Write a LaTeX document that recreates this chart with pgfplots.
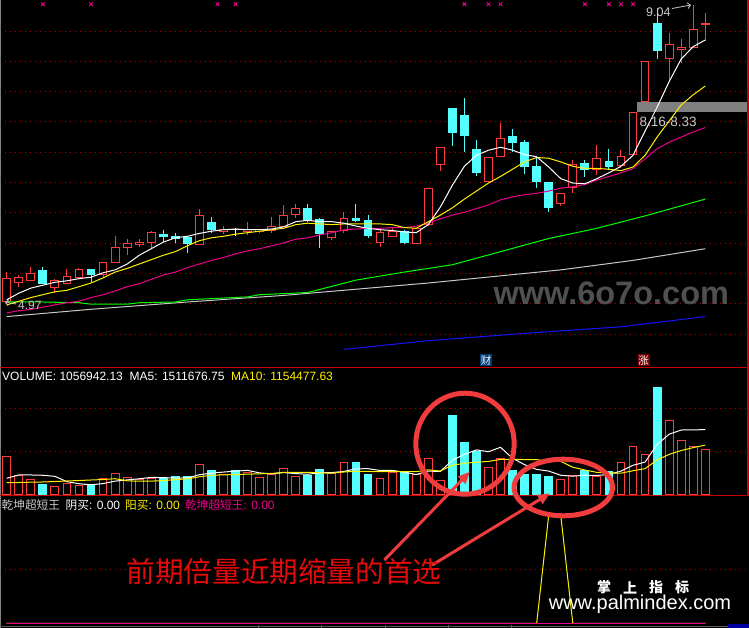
\documentclass[border=0pt]{standalone}
\usepackage{fontspec}
\setmainfont{Liberation Sans}
\newfontfamily\cjk{Noto Sans CJK SC}
\usepackage{pgfplots}
\pgfplotsset{compat=1.18}
\usetikzlibrary{arrows.meta}

\definecolor{upred}{RGB}{255,60,60}
\definecolor{dncyan}{RGB}{84,255,255}
\definecolor{gridred}{RGB}{190,0,0}
\definecolor{bordred}{RGB}{200,0,0}
\definecolor{ma120}{RGB}{200,200,200}
\definecolor{ma250}{RGB}{20,20,255}
\definecolor{annot}{RGB}{240,60,60}
\definecolor{lbl}{RGB}{200,200,200}
\definecolor{wm}{RGB}{80,80,80}

\pgfplotsset{
  panel/.style={scale only axis, width=749pt, xmin=-0.556, xmax=61.63,
    axis line style={draw=none}, xtick=\empty, yticklabels={}, major tick length=0pt,
    ymajorgrids, grid style={gridred, line width=0.8pt, dash pattern=on 1pt off 4pt},
    anchor=south west, clip=true},
  maline/.style={line width=1pt, mark=none, sharp plot}
}
% candle: index, open, high, low, close
\newcommand{\candle}[7]{% #1 line colour, #2 fill colour, #3 index, #4 high, #5 low, #6 body bottom, #7 body top
  \pgfmathsetmacro\xa{#3-0.325}\pgfmathsetmacro\xb{#3+0.325}%
  \addplot[draw=#1, line width=1pt, mark=none] coordinates {(#3,#4)(#3,#7)};
  \addplot[draw=#1, line width=1pt, mark=none] coordinates {(#3,#6)(#3,#5)};
  \addplot[draw=#1, fill=#2, line width=1pt, mark=none] coordinates {(\xa,#6)(\xb,#6)(\xb,#7)(\xa,#7)} --cycle;
}
\newcommand{\up}[5]{\candle{upred}{black}{#1}{#3}{#4}{#2}{#5}}
\newcommand{\dn}[5]{\candle{dncyan}{dncyan}{#1}{#3}{#4}{#5}{#2}}

\begin{document}
\begin{tikzpicture}
\fill[black] (0pt,0pt) rectangle (749pt,628pt);

% ---------------- price panel ----------------
\begin{axis}[panel, at={(0pt,260pt)}, height=368pt, ymin=4.0655, ymax=9.1085,
  ytick={4.5315,4.9467,5.3619,5.7771,6.1924,6.6076,7.0228,7.4380,7.8532,8.2685,8.6837}]
\up{0}{4.98}{5.38}{4.97}{5.29}
\up{1}{5.24}{5.34}{5.18}{5.31}
\up{2}{5.27}{5.45}{5.26}{5.36}
\dn{3}{5.40}{5.45}{5.23}{5.23}
\up{4}{5.17}{5.28}{5.09}{5.26}
\up{5}{5.23}{5.42}{5.23}{5.32}
\up{6}{5.31}{5.43}{5.31}{5.41}
\dn{7}{5.41}{5.42}{5.25}{5.35}
\up{8}{5.35}{5.51}{5.31}{5.51}
\up{9}{5.51}{5.87}{5.51}{5.72}
\up{10}{5.72}{5.84}{5.61}{5.77}
\up{11}{5.76}{5.83}{5.73}{5.79}
\up{12}{5.79}{5.94}{5.69}{5.92}
\dn{13}{5.90}{5.96}{5.79}{5.87}
\dn{14}{5.87}{5.92}{5.78}{5.84}
\dn{15}{5.85}{5.87}{5.64}{5.77}
\up{16}{5.76}{6.24}{5.76}{6.16}
\dn{17}{6.06}{6.13}{5.91}{5.96}
\up{18}{5.93}{6.01}{5.90}{5.96}
\candle{white}{white}{19}{5.99}{5.87}{5.96}{5.96}
\up{20}{5.93}{6.06}{5.89}{5.96}
\up{21}{5.94}{5.97}{5.92}{5.96}
\up{22}{5.95}{6.14}{5.91}{6.01}
\up{23}{6.00}{6.30}{6.00}{6.16}
\up{24}{6.17}{6.31}{6.12}{6.25}
\dn{25}{6.25}{6.31}{6.06}{6.10}
\dn{26}{6.10}{6.12}{5.71}{5.91}
\up{27}{5.86}{5.93}{5.82}{5.93}
\up{28}{5.95}{6.20}{5.91}{6.12}
\dn{29}{6.12}{6.31}{6.07}{6.09}
\dn{30}{6.09}{6.16}{5.85}{5.88}
\up{31}{5.79}{5.98}{5.73}{5.92}
\up{32}{5.87}{5.98}{5.86}{5.94}
\dn{33}{5.93}{5.96}{5.77}{5.78}
\up{34}{5.77}{5.99}{5.77}{5.98}
\up{35}{6.03}{6.52}{6.01}{6.52}
\up{36}{6.86}{7.09}{6.77}{7.09}
\dn{37}{7.62}{7.62}{7.11}{7.29}
\dn{38}{7.53}{7.76}{7.03}{7.25}
\dn{39}{7.06}{7.19}{6.69}{6.74}
\up{40}{6.62}{6.95}{6.62}{6.95}
\up{41}{6.96}{7.42}{6.96}{7.21}
\dn{42}{7.24}{7.34}{7.02}{7.16}
\dn{43}{7.16}{7.19}{6.72}{6.83}
\dn{44}{6.82}{6.94}{6.53}{6.62}
\dn{45}{6.61}{6.61}{6.21}{6.26}
\up{46}{6.32}{6.45}{6.28}{6.45}
\up{47}{6.54}{6.92}{6.46}{6.85}
\dn{48}{6.87}{6.91}{6.68}{6.79}
\up{49}{6.79}{7.12}{6.71}{6.94}
\dn{50}{6.90}{7.07}{6.78}{6.82}
\up{51}{6.84}{7.05}{6.80}{6.97}
\up{52}{6.99}{7.57}{6.99}{7.57}
\up{53}{7.72}{8.26}{7.72}{8.26}
\dn{54}{8.79}{9.00}{8.30}{8.41}
\up{55}{8.31}{8.65}{8.01}{8.50}
\up{56}{8.43}{8.58}{8.24}{8.46}
\up{57}{8.46}{9.04}{8.46}{8.71}
\up{58}{8.77}{8.93}{8.55}{8.79}
% grey band
\addplot[fill={rgb,255:red,128;green,128;blue,128}, draw=none] coordinates {(52.31,7.578)(61.7,7.578)(61.7,7.715)(52.31,7.715)} --cycle;
% MA250 blue
\addplot[maline, color=ma250] coordinates {(28,4.32)(35,4.44)(43,4.54)(51,4.63)(58,4.77)};
% MA120 grey
\addplot[maline, color=ma120] coordinates {(0,4.77)(7,4.87)(15,4.97)(23,5.06)(35,5.23)(46,5.41)(52,5.54)(58,5.70)};
% MA60 green
\addplot[maline, color={rgb,255:red,0;green,255;blue,0}] coordinates {(0,4.97)(3,4.97)(6,4.96)(7,4.94)(10,4.94)(11,4.96)(14,4.97)(15,5.00)(20,5.04)(21,5.07)(25,5.10)(29,5.27)(33,5.38)(37,5.48)(41,5.66)(45,5.84)(49,5.98)(53,6.15)(58,6.38)};
% MA20 magenta
\addplot[maline, color=magenta] coordinates {(0,4.82)(1,4.85)(2,4.87)(3,4.90)(4,4.93)(5,4.96)(6,4.98)(7,5.03)(8,5.07)(9,5.12)(10,5.18)(11,5.22)(12,5.28)(13,5.34)(14,5.38)(15,5.44)(16,5.49)(17,5.54)(18,5.58)(19,5.63)(20,5.67)(21,5.70)(22,5.74)(23,5.78)(24,5.83)(25,5.85)(26,5.89)(27,5.92)(28,5.96)(29,5.97)(30,5.98)(31,5.98)(32,5.99)(33,5.99)(34,6.01)(35,6.05)(36,6.11)(37,6.16)(38,6.20)(39,6.25)(40,6.30)(41,6.37)(42,6.41)(43,6.44)(44,6.46)(45,6.49)(46,6.53)(47,6.55)(48,6.58)(49,6.64)(50,6.69)(51,6.74)(52,6.80)(53,6.93)(54,7.07)(55,7.16)(56,7.23)(57,7.30)(58,7.36)};
% MA10 yellow
\addplot[maline, color=yellow] coordinates {(0,4.93)(1,4.98)(2,5.03)(3,5.07)(4,5.11)(5,5.13)(6,5.18)(7,5.23)(8,5.30)(9,5.38)(10,5.43)(11,5.49)(12,5.55)(13,5.61)(14,5.66)(15,5.74)(16,5.81)(17,5.85)(18,5.87)(19,5.90)(20,5.92)(21,5.94)(22,5.96)(23,5.98)(24,6.03)(25,6.05)(26,6.04)(27,6.03)(28,6.04)(29,6.04)(30,6.04)(31,6.04)(32,6.03)(33,5.99)(34,5.98)(35,6.07)(36,6.16)(37,6.26)(38,6.38)(39,6.49)(40,6.60)(41,6.69)(42,6.79)(43,6.89)(44,6.95)(45,6.94)(46,6.89)(47,6.83)(48,6.80)(49,6.80)(50,6.79)(51,6.77)(52,6.82)(53,6.98)(54,7.23)(55,7.45)(56,7.67)(57,7.81)(58,7.93)};
% MA5 white
\addplot[maline, color=white] coordinates {(0,5.00)(1,5.09)(2,5.16)(3,5.20)(4,5.24)(5,5.26)(6,5.29)(7,5.31)(8,5.37)(9,5.41)(10,5.49)(11,5.61)(12,5.70)(13,5.79)(14,5.85)(15,5.87)(16,5.91)(17,5.94)(18,5.96)(19,5.97)(20,5.96)(21,5.96)(22,5.97)(23,6.00)(24,6.07)(25,6.09)(26,6.07)(27,6.07)(28,6.05)(29,6.01)(30,5.98)(31,5.96)(32,5.95)(33,5.93)(34,5.92)(35,6.03)(36,6.27)(37,6.57)(38,6.83)(39,6.98)(40,7.05)(41,7.09)(42,7.05)(43,6.99)(44,6.96)(45,6.82)(46,6.66)(47,6.60)(48,6.59)(49,6.66)(50,6.74)(51,6.83)(52,6.98)(53,7.31)(54,7.64)(55,7.99)(56,8.30)(57,8.47)(58,8.56)};
% signal marks
\addplot[only marks, mark=x, mark size=2.5pt, color=magenta, line width=1pt] coordinates {(3,9.05)(7,9.05)(17.5,9.05)(19,9.05)(38,9.05)(40,9.05)(41,9.05)(48,9.05)(50,9.05)(51,9.05)(52,9.05)};
\end{axis}

% ---------------- volume panel ----------------
\begin{axis}[panel, at={(0pt,133pt)}, height=127pt, ymin=0, ymax=293.73, ytick={100,200}]
\addplot[ybar, bar width=0.65, bar shift=0pt, draw=upred, fill=black, line width=1pt] coordinates {(0,89.5)(1,45.6)(2,34.7)(4,20.8)(5,27.1)(6,22.4)(8,38.6)(9,50.2)(10,40.9)(11,34.7)(12,38.6)(16,71.0)(18,47.9)(20,52.5)(21,41.6)(22,47.9)(23,61.8)(24,43.9)(27,48.6)(28,75.6)(31,38.6)(32,51.6)(34,47.9)(35,84.9)(36,34.0)(40,64.1)(41,84.0)(46,36.3)(47,44.6)(49,43.9)(51,75.6)(52,112.6)(53,94.1)(55,172.8)(56,124.9)(57,113.3)(58,105.7)};
\addplot[ybar, bar width=0.65, bar shift=0pt, draw=dncyan, fill=dncyan, line width=1pt] coordinates {(3,25.4)(7,22.4)(13,37.0)(14,43.9)(15,43.9)(17,57.8)(19,55.5)(25,44.6)(26,60.1)(29,74.0)(30,46.3)(33,53.2)(37,182.7)(38,120.3)(39,100.1)(42,55.5)(43,46.3)(44,46.3)(45,43.9)(48,57.8)(50,53.9)(54,247.5)};
\addplot[maline, color=white] coordinates {(0,38.6)(1,46.3)(2,46.3)(3,45.6)(4,43.2)(5,30.8)(6,26.1)(7,23.6)(8,26.4)(9,32.1)(10,34.9)(11,37.5)(12,40.7)(13,40.2)(14,39.1)(15,39.5)(16,46.9)(17,50.7)(18,53.0)(19,55.3)(20,56.9)(21,51.1)(22,49.0)(23,51.8)(24,49.5)(25,47.9)(26,51.6)(27,51.8)(28,54.6)(29,60.6)(30,60.8)(31,56.7)(32,57.1)(33,52.7)(34,47.4)(35,55.3)(36,54.4)(37,80.5)(38,93.9)(39,104.3)(40,100.1)(41,110.3)(42,84.9)(43,70.1)(44,59.2)(45,55.3)(46,45.6)(47,43.5)(48,45.8)(49,45.3)(50,47.4)(51,55.3)(52,68.7)(53,76.1)(54,116.8)(55,140.6)(56,150.3)(57,150.6)(58,151.2)};
\addplot[maline, color=yellow] coordinates {(0,28.4)(1,28.9)(2,29.6)(3,30.1)(4,31.2)(5,32.4)(6,33.5)(7,34.7)(8,35.8)(9,37.7)(10,32.8)(11,31.8)(12,32.1)(13,33.3)(14,35.6)(15,37.2)(16,42.2)(17,45.7)(18,46.6)(19,47.2)(20,48.2)(21,49.0)(22,49.8)(23,52.4)(24,52.4)(25,52.4)(26,51.3)(27,50.4)(28,53.2)(29,55.0)(30,54.4)(31,54.1)(32,54.5)(33,53.7)(34,54.0)(35,58.1)(36,55.5)(37,68.8)(38,73.3)(39,75.9)(40,77.7)(41,82.3)(42,82.7)(43,82.0)(44,81.8)(45,77.7)(46,77.9)(47,64.2)(48,57.9)(49,52.3)(50,51.3)(51,50.4)(52,56.1)(53,60.9)(54,81.1)(55,94.0)(56,102.8)(57,109.6)(58,115.4)};
\end{axis}

% ---------------- indicator panel ----------------
\begin{axis}[panel, at={(0pt,0pt)}, height=133pt, ymin=-4.7, ymax=128.3, ytick={54}]
\addplot[maline, color=yellow] coordinates {(0,0)(1,0)(2,0)(3,0)(4,0)(5,0)(6,0)(7,0)(8,0)(9,0)(10,0)(11,0)(12,0)(13,0)(14,0)(15,0)(16,0)(17,0)(18,0)(19,0)(20,0)(21,0)(22,0)(23,0)(24,0)(25,0)(26,0)(27,0)(28,0)(29,0)(30,0)(31,0)(32,0)(33,0)(34,0)(35,0)(36,0)(37,0)(38,0)(39,0)(40,0)(41,0)(42,0)(43,0)(44,0)(45,108)(46,108)(47,0)(48,0)(49,0)(50,0)(51,0)(52,0)(53,0)(54,0)(55,0)(56,0)(57,0)(58,0)};
\addplot[maline, color=magenta] coordinates {(0,0)(1,0)(2,0)(3,0)(4,0)(5,0)(6,0)(7,0)(8,0)(9,0)(10,0)(11,0)(12,0)(13,0)(14,0)(15,0)(16,0)(17,0)(18,0)(19,0)(20,0)(21,0)(22,0)(23,0)(24,0)(25,0)(26,0)(27,0)(28,0)(29,0)(30,0)(31,0)(32,0)(33,0)(34,0)(35,0)(36,0)(37,0)(38,0)(39,0)(40,0)(41,0)(42,0)(43,0)(44,0)(45,0)(46,0)(47,0)(48,0)(49,0)(50,0)(51,0)(52,0)(53,0)(54,0)(55,0)(56,0)(57,0)(58,0)};
\end{axis}

% ---------------- frame ----------------
\draw[color={rgb,255:red,128;green,128;blue,128}, line width=1pt] (0.5pt,0pt) -- (0.5pt,628pt);
\draw[bordred, line width=1.5pt] (0pt,260.5pt) -- (749pt,260.5pt);
\draw[bordred, line width=1.5pt] (0pt,132.5pt) -- (749pt,132.5pt);
\draw[bordred, line width=1.5pt] (747.8pt,132.5pt) -- (747.8pt,628pt);
\draw[color={rgb,255:red,90;green,90;blue,90}, line width=1pt] (0pt,1.5pt) -- (728pt,1.5pt);
\foreach \tx in {258,321,385,448,511} {\draw[color={rgb,255:red,90;green,90;blue,90}, line width=1pt] (\tx pt,0pt) -- (\tx pt,3pt);}
\fill[color={rgb,255:red,0;green,0;blue,160}] (728pt,0pt) rectangle (749pt,4pt);

% ---------------- labels ----------------
\node[anchor=base west, inner sep=0pt, text=lbl] at (646pt,611.3pt) {\fontsize{12.5}{13}\selectfont 9.04};
\draw[lbl, line width=0.8pt, -{Straight Barb[length=3pt]}] (672pt,619.5pt) -- (691pt,623pt);
\node[anchor=base west, inner sep=0pt, text=lbl] at (639.3pt,501.3pt) {\fontsize{13.5}{14}\selectfont 8.16-8.33};
\node[anchor=base west, inner sep=0pt, text=lbl] at (18pt,318.5pt) {\fontsize{12}{13}\selectfont 4.97};
\draw[lbl, line width=0.8pt, -{Straight Barb[length=3pt]}] (16pt,324pt) -- (5pt,326pt);
\node[anchor=base, inner sep=0pt, text=wm] at (611.3pt,323pt) {\fontsize{32.5}{34}\selectfont\bfseries www.6o7o.com};
\node[fill={rgb,255:red,0;green,60;blue,120}, text=white, inner sep=0.5pt, minimum width=12pt, minimum height=12pt] at (486pt,267.5pt) {\cjk\fontsize{10.5}{11}\selectfont 财};
\node[fill={rgb,255:red,120;green,0;blue,0}, text=white, inner sep=0.5pt, minimum width=12pt, minimum height=12pt] at (643.5pt,267.5pt) {\cjk\fontsize{10.5}{11}\selectfont 涨};

\node[anchor=base west, inner sep=0pt] at (2pt,247.3pt) {\fontsize{12}{13}\selectfont\textcolor{white}{VOLUME: 1056942.13\ \ MA5: 1511676.75}\ \ \textcolor{yellow}{MA10: 1154477.63}};

\node[anchor=base west, inner sep=0pt, text=lbl] at (1.4pt,118.5pt) {\cjk\fontsize{11.7}{12}\selectfont 乾坤超短王};
\node[anchor=base west, inner sep=0pt, text=white] at (65.4pt,118.5pt) {{\cjk\fontsize{11.7}{12}\selectfont 阴买}\fontsize{12}{12}\selectfont: 0.00};
\node[anchor=base west, inner sep=0pt, text=yellow] at (125pt,118.5pt) {{\cjk\fontsize{11.7}{12}\selectfont 阳买}\fontsize{12}{12}\selectfont: 0.00};
\node[anchor=base west, inner sep=0pt, text=magenta] at (184.8pt,118.5pt) {{\cjk\fontsize{11.7}{12}\selectfont 乾坤超短王}\fontsize{12}{12}\selectfont: 0.00};

% palmindex watermark
\foreach \cx/\ch in {604/掌,630/上,656/指,682/标} {\node[text=white, inner sep=0pt] at (\cx pt,40.5pt) {\cjk\bfseries\fontsize{14}{14}\selectfont \ch};}
\node[anchor=base, inner sep=0pt, text=white] at (640pt,18pt) {\fontsize{20}{20}\selectfont www.palmindex.com};

% ---------------- annotation ----------------
\draw[annot, line width=5pt] (465pt,184.3pt) ellipse [x radius=49.2pt, y radius=50.5pt];
\draw[annot, line width=5pt] (563.3pt,140.5pt) ellipse [x radius=49.2pt, y radius=28.3pt];
\draw[annot, line width=3pt, -{Triangle[length=12pt,width=10pt]}] (384.4pt,68pt) -- (470pt,156.3pt);
\draw[annot, line width=3pt, -{Triangle[length=12pt,width=10pt]}] (432.2pt,63pt) -- (550pt,134.7pt);
\node[text={rgb,255:red,230;green,10;blue,10}, inner sep=0pt] at (284pt,56.5pt) {\cjk\fontsize{28.6}{30}\selectfont 前期倍量近期缩量的首选};

\pgfresetboundingbox
\useasboundingbox (0pt,0pt) rectangle (749pt,628pt);
\end{tikzpicture}
\end{document}
